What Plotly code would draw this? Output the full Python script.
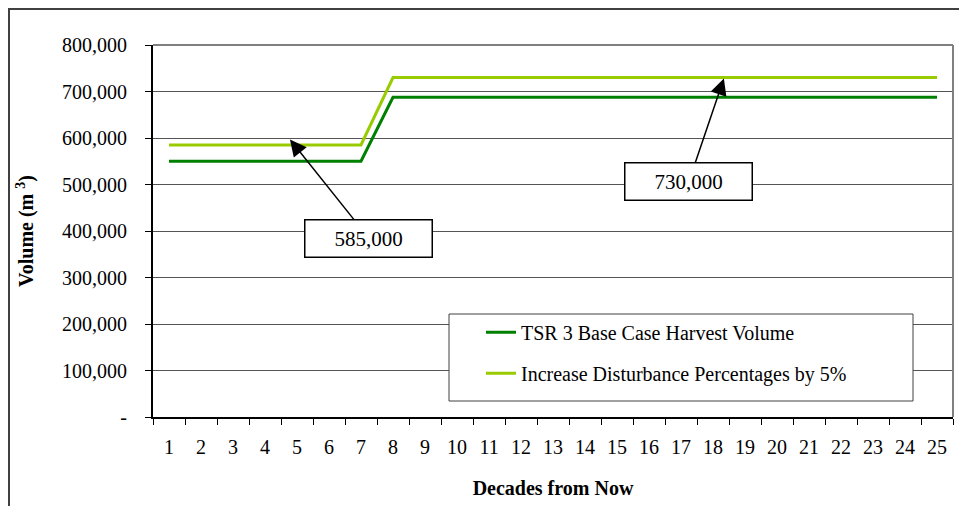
import plotly.graph_objects as go

# decades from now (category axis)
decades = ["1", "2", "3", "4", "5", "6", "7", "8", "9", "10", "11", "12", "13",
           "14", "15", "16", "17", "18", "19", "20", "21", "22", "23", "24", "25"]

# harvest volume, m3
base_case = [550000, 550000, 550000, 550000, 550000, 550000, 550000,
             687500, 687500, 687500, 687500, 687500, 687500, 687500, 687500,
             687500, 687500, 687500, 687500, 687500, 687500, 687500, 687500,
             687500, 687500]
disturb_5pct = [585000, 585000, 585000, 585000, 585000, 585000, 585000,
                730000, 730000, 730000, 730000, 730000, 730000, 730000, 730000,
                730000, 730000, 730000, 730000, 730000, 730000, 730000, 730000,
                730000, 730000]

y_ticks = [0, 100000, 200000, 300000, 400000, 500000, 600000, 700000, 800000]
y_labels = ["-", "100,000", "200,000", "300,000", "400,000", "500,000",
            "600,000", "700,000", "800,000"]

# callouts: (label, decade position, volume)
callouts = [("585,000", 3.78, 597000), ("730,000", 17.34, 728000)]

FONT = "Liberation Serif"

fig = go.Figure()
fig.add_trace(go.Scatter(x=decades, y=base_case, mode="lines",
                         name="TSR 3 Base Case Harvest Volume",
                         line=dict(color="#008000", width=3), legendgroup="a"))
fig.add_trace(go.Scatter(x=decades, y=disturb_5pct, mode="lines",
                         name="Increase Disturbance Percentages by 5%",
                         line=dict(color="#99CC00", width=3), legendgroup="b"))

# arrow callouts
offsets = [(79, 99), (-35, 103)]
for (txt, xpos, yval), (ax, ay) in zip(callouts, offsets):
    fig.add_annotation(x=xpos, y=yval, xref="x", yref="y", text=txt,
                       showarrow=True, ax=ax, ay=ay, axref="pixel", ayref="pixel",
                       arrowhead=2, arrowsize=2.2, arrowwidth=1.5, arrowcolor="black",
                       bgcolor="white", bordercolor="black", borderwidth=1.5,
                       borderpad=3, width=120, height=30,
                       font=dict(family=FONT, size=21, color="black"))

shapes = [
    # outer chart border (only top and left are in frame)
    dict(type="rect", xref="paper", yref="paper", x0=-0.18, x1=1.2, y0=-0.6, y1=1.0968,
         line=dict(color="#404040", width=2)),
    # plot area top/right edge
    dict(type="line", xref="paper", yref="paper", x0=0, x1=1, y0=1, y1=1,
         line=dict(color="#808080", width=2)),
    dict(type="line", xref="paper", yref="paper", x0=1, x1=1, y0=0, y1=1,
         line=dict(color="#808080", width=2)),
    # legend box
    dict(type="rect", xref="paper", yref="paper", layer="above",
         x0=(449 - 153) / 800, x1=(913 - 153) / 800,
         y0=(417 - 401) / 372, y1=(417 - 314) / 372,
         fillcolor="white", line=dict(color="#404040", width=1)),
]

fig.update_layout(
    width=967, height=506,
    margin=dict(l=145, r=22, t=37, b=97),
    paper_bgcolor="white", plot_bgcolor="white",
    font=dict(family=FONT, size=20, color="black"),
    shapes=shapes,
    showlegend=True,
    legend=dict(x=0.41, y=0.28, xanchor="left", yanchor="top",
                bgcolor="rgba(0,0,0,0)", borderwidth=0,
                traceorder="grouped", tracegroupgap=12,
                font=dict(family=FONT, size=20)),
    xaxis=dict(type="category", tickson="boundaries", range=[-0.5, 24.5],
               automargin=False,
               ticks="outside", ticklen=6, tickcolor="black", tickwidth=1,
               showline=True, linecolor="black", linewidth=2, showgrid=False,
               ticklabelstandoff=11,
               title=dict(text="<b>Decades from Now</b>", standoff=24,
                          font=dict(family=FONT, size=20))),
    yaxis=dict(range=[0, 800000], tickvals=y_ticks, ticktext=y_labels,
               automargin=False,
               ticks="outside", ticklen=6, tickcolor="black", tickwidth=1,
               showline=True, linecolor="black", linewidth=2,
               showgrid=True, gridcolor="#555555", gridwidth=1, zeroline=False,
               ticklabelstandoff=14,
               title=dict(text="<b>Volume (m <sup>3</sup>)</b>", standoff=23,
                          font=dict(family=FONT, size=20))),
)

fig.write_html("out.html")
